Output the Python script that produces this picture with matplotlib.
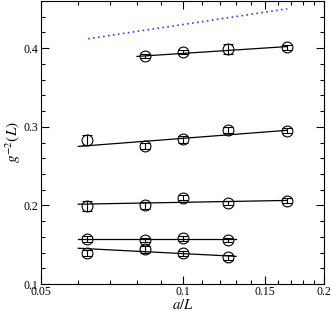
import matplotlib
matplotlib.use("Agg")
import matplotlib.pyplot as plt
from matplotlib.ticker import FixedLocator, FixedFormatter, NullFormatter

plt.rcParams['font.family'] = ['Liberation Serif', 'DejaVu Serif']
plt.rcParams['mathtext.fontset'] = 'stix'

# lattice spacing a/L
x5 = [1/16, 1/12, 1/10, 1/8, 1/6]
x4_top = [1/12, 1/10, 1/8, 1/6]
x4_bot = [1/16, 1/12, 1/10, 1/8]

# g^-2(L) data and errors
top_y = [0.390, 0.395, 0.399, 0.401]
top_err = [0.003, 0.003, 0.006, 0.003]

s2_y = [0.283, 0.276, 0.284, 0.296, 0.295]
s2_err = [0.006, 0.004, 0.004, 0.004, 0.003]

s3_y = [0.199, 0.200, 0.210, 0.203, 0.206]
s3_err = [0.006, 0.004, 0.003, 0.003, 0.003]

s4_y = [0.157, 0.156, 0.158, 0.156]
s4_err = [0.004, 0.003, 0.003, 0.003]

s5_y = [0.139, 0.144, 0.139, 0.134]
s5_err = [0.004, 0.004, 0.003, 0.003]

fit_top_x = [0.080, 0.1667]
fit_top_y = [0.3895, 0.402]
fit2_x = [0.060, 0.1667]
fit2_y = [0.275, 0.2955]
fit3_x = [0.060, 0.1667]
fit3_y = [0.2015, 0.2063]
fit4_x = [0.060, 0.130]
fit4_y = [0.1568, 0.1568]
fit5_x = [0.060, 0.130]
fit5_y = [0.1455, 0.1352]

# blue dotted reference line
ref_x = [0.063, 0.167]
ref_y = [0.412, 0.450]

fig = plt.figure(figsize=(3.32, 3.11), dpi=100)
ax = fig.add_axes([0.1235, 0.0868, 0.8525, 0.9100])

for fx, fy in [(fit_top_x, fit_top_y), (fit2_x, fit2_y), (fit3_x, fit3_y),
               (fit4_x, fit4_y), (fit5_x, fit5_y)]:
    ax.plot(fx, fy, color='black', lw=0.9)

for xs, ys, es in [(x4_top, top_y, top_err), (x5, s2_y, s2_err), (x5, s3_y, s3_err),
                   (x4_bot, s4_y, s4_err), (x4_bot, s5_y, s5_err)]:
    ax.errorbar(xs, ys, yerr=es, fmt='o', mfc='none', mec='black', ms=7.8, mew=0.8,
                ecolor='black', elinewidth=0.8, capsize=3.5, capthick=0.8)

ax.plot(ref_x, ref_y, color='#3a3aff', ls=(0, (1, 2)), lw=1.2)

ax.set_xscale('log')
ax.set_xlim(0.05, 0.2)
ax.set_ylim(0.1, 0.46)

ax.xaxis.set_major_locator(FixedLocator([0.05, 0.1, 0.15, 0.2]))
ax.xaxis.set_major_formatter(FixedFormatter(['0.05', '0.1', '0.15', '0.2']))
ax.xaxis.set_minor_locator(FixedLocator([0.06, 0.07, 0.08, 0.09, 0.11, 0.12, 0.13,
                                         0.14, 0.16, 0.17, 0.18, 0.19]))
ax.xaxis.set_minor_formatter(NullFormatter())
ax.set_yticks([0.1, 0.2, 0.3, 0.4])
ax.set_yticklabels(['0.1', '0.2', '0.3', '0.4'])
ax.set_yticks([0.12, 0.14, 0.16, 0.18, 0.22, 0.24, 0.26, 0.28, 0.32, 0.34, 0.36,
               0.38, 0.42, 0.44], minor=True)

ax.tick_params(which='both', direction='in', top=True, right=True, labelsize=8.5, pad=2)
ax.tick_params(axis='x', which='major', pad=1.5)
ax.tick_params(which='major', length=6, width=0.8)
ax.tick_params(which='minor', length=3, width=0.8)

ax.set_xlabel(r'$a/L$', fontsize=10.5, labelpad=0)
ax.set_ylabel(r'$g^{-2}(L)$', fontsize=11, labelpad=0)

fig.savefig('out.png', dpi=100)
